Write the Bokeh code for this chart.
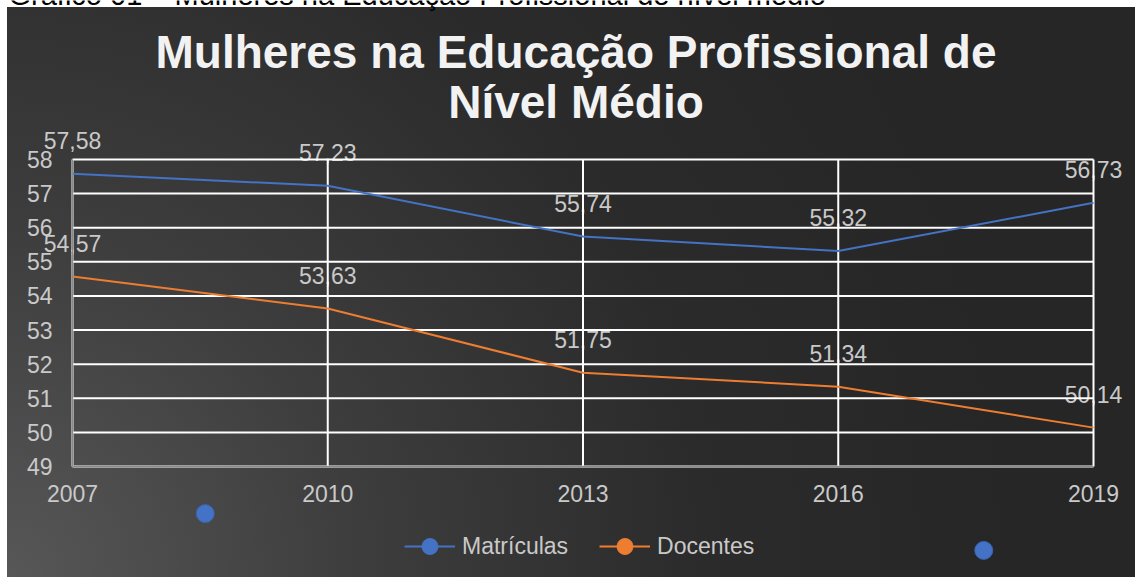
from bokeh.plotting import figure
from bokeh.models import (ColumnDataSource, FixedTicker, Legend, LegendItem, LabelSet)
from bokeh.core.properties import value
from bokeh.embed import file_html
from bokeh.resources import INLINE

years = [2007, 2010, 2013, 2016, 2019]
matriculas = [57.58, 57.23, 55.74, 55.32, 56.73]
docentes = [54.57, 53.63, 51.75, 51.34, 50.14]
y_ticks = [49, 50, 51, 52, 53, 54, 55, 56, 57, 58]
title_line1 = "Mulheres na Educação Profissional de"
title_line2 = "Nível Médio"
caption = "Gráfico 01 – Mulheres na Educação Profissional de nível médio"
series_names = ["Matrículas", "Docentes"]
# two stray marker dots visible in the original picture
stray_x = [2008.56, 2017.71]
stray_y = [47.62, 46.54]

BLUE = "#4472C4"
ORANGE = "#ED7D31"
TXT = "#c9c9c9"
FONT = "Liberation Sans"

W, H = 1135, 577
# pixel layout of the plotting area inside the canvas
PX_LEFT, PX_RIGHT, PX_TOP, PX_BOTTOM = 72, 1093, 159, 466
x0, x1 = years[0], years[-1]
y0, y1 = y_ticks[0], y_ticks[-1]
sx = (PX_RIGHT - PX_LEFT) / (x1 - x0)
sy = (PX_BOTTOM - PX_TOP) / (y1 - y0)
xr = (x0 - PX_LEFT / sx, x1 + (W - PX_RIGHT) / sx)
yr = (y0 - (H - PX_BOTTOM) / sy, y1 + PX_TOP / sy)

def px_x(px):
    return x0 + (px - PX_LEFT) / sx

def px_y(py):
    return y1 + (PX_TOP - py) / sy

def fmt(v):
    return f"{v:.2f}".replace(".", ",")

src_m = ColumnDataSource(dict(x=years, y=matriculas, lab=[fmt(v) for v in matriculas]))
src_d = ColumnDataSource(dict(x=years, y=docentes, lab=[fmt(v) for v in docentes]))

p = figure(width=W, height=H, x_range=xr, y_range=yr,
           output_backend="svg", toolbar_location=None, title=None, min_border=0,
           border_fill_alpha=0, background_fill_alpha=0, outline_line_alpha=0)
p.styles = {"background": "radial-gradient(circle farthest-corner at 0% 100%, #575757 0%, "
                          "#3d3d3d 28%, #2b2b2b 55%, #262626 80%) 7px 7px / "
                          "calc(100% - 7px) calc(100% - 7px) no-repeat, #ffffff"}

# grid lines (white), drawn only over the plotting area
p.xgrid.visible = False
p.ygrid.visible = False
p.segment(x0=[x0] * len(y_ticks), x1=[x1] * len(y_ticks), y0=y_ticks, y1=y_ticks,
          line_color="white", line_width=2)
p.segment(x0=years, x1=years, y0=[y0] * len(years), y1=[y1] * len(years),
          line_color="white", line_width=2)

# axes at fixed positions
p.xaxis.fixed_location = y0
p.xaxis.bounds = (x0, x1)
p.yaxis.fixed_location = x0
p.yaxis.bounds = (y0, y1)
p.xaxis.ticker = FixedTicker(ticks=years)
p.yaxis.ticker = FixedTicker(ticks=y_ticks)
for ax in (p.xaxis[0], p.yaxis[0]):
    ax.major_tick_line_color = None
    ax.minor_tick_line_color = None
    ax.axis_line_color = "#8a8a8a"
    ax.axis_line_width = 1.5
    ax.major_label_text_font = FONT
    ax.major_label_text_font_size = "23px"
    ax.major_label_text_color = TXT
p.xaxis.major_label_standoff = 12
p.yaxis.major_label_standoff = 14

# title and caption
title_src = ColumnDataSource(dict(x=[px_x(575.5)] * 2, y=[px_y(67), px_y(117)],
                                  t=[title_line1, title_line2]))
p.add_layout(LabelSet(x="x", y="y", text="t", source=title_src, text_align="center",
                      text_baseline="alphabetic", text_font=value(FONT),
                      text_font_size="46px", text_font_style="bold", text_color="#f2f2f2"))
cap_src = ColumnDataSource(dict(x=[px_x(8)], y=[px_y(4)], t=[caption]))
p.add_layout(LabelSet(x="x", y="y", text="t", source=cap_src, text_align="left",
                      text_baseline="alphabetic", text_font=value(FONT),
                      text_font_size="29px", text_color="#000000"))

# data labels (beneath the grid like the original)
for src in (src_m, src_d):
    p.add_layout(LabelSet(x="x", y="y", text="lab", source=src, y_offset=25,
                          text_align="center", text_baseline="alphabetic",
                          text_font=value(FONT), text_font_size="23px", text_color=TXT,
                          level="underlay"))

# lines
lm = p.line("x", "y", source=src_m, line_color=BLUE, line_width=2)
ld = p.line("x", "y", source=src_d, line_color=ORANGE, line_width=2)
sm = p.scatter("x", "y", source=src_m, size=15, fill_color=BLUE, line_color=BLUE, visible=False)
sd = p.scatter("x", "y", source=src_d, size=15, fill_color=ORANGE, line_color=ORANGE, visible=False)

# stray markers
p.scatter(stray_x, stray_y, size=18, fill_color=BLUE, line_color="#3a62b0")

legend = Legend(items=[LegendItem(label=series_names[0], renderers=[lm, sm]),
                       LegendItem(label=series_names[1], renderers=[ld, sd])],
                orientation="horizontal", location=(404, 11),
                background_fill_alpha=0, border_line_alpha=0,
                label_text_font=FONT, label_text_font_size="23px", label_text_color=TXT,
                glyph_width=51, glyph_height=40, label_standoff=7, spacing=31,
                padding=0, margin=0, inactive_fill_alpha=0)
p.add_layout(legend)

open("out.html", "w").write(file_html(p, INLINE))
